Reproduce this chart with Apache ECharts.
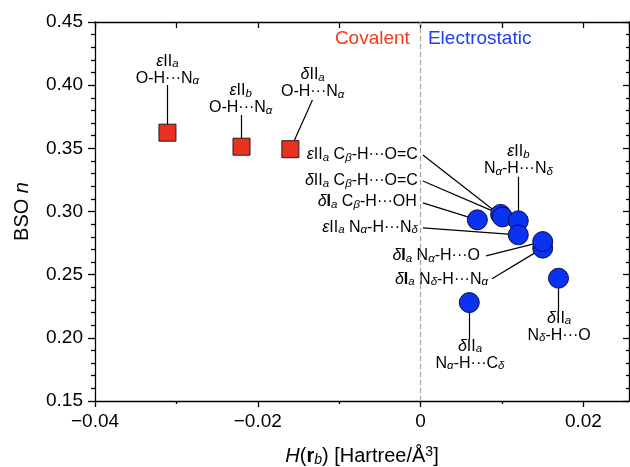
<!DOCTYPE html>
<html>
<head>
<meta charset="utf-8">
<script src="https://cdn.jsdelivr.net/npm/echarts@6/dist/echarts.min.js"></script>
<style>
  html, body { margin: 0; padding: 0; background: #fff; }
  #chart { width: 630px; height: 467px; }
</style>
</head>
<body>
<div id="chart"></div>
<script>
const font = '"Liberation Sans", Arial, sans-serif';

// covalent bond paths (red squares)
const covX = [-0.0311, -0.0220, -0.0160];
const covY = [0.3624, 0.3513, 0.3493];
const covTag = [
  '{i|ε}II{s|a}\nO-H···N{s|α}',
  '{i|ε}II{s|b}\nO-H···N{s|α}',
  '{i|δ}II{s|a}\nO-H···N{s|α}'
];
const covTagX = [-0.0311, -0.0221, -0.01326];
const covTagY = [0.4121, 0.3888, 0.4014];
const covLeadX = [-0.0311, -0.0220, -0.01329];
const covLeadY = [0.4002, 0.3764, 0.3883];
const covSide = ['mid', 'mid', 'mid'];

// electrostatic bond paths (blue circles)
const esX = [0.00697, 0.00982, 0.01005, 0.0120, 0.0120, 0.0150, 0.0150, 0.01694, 0.00598];
const esY = [0.2934, 0.2977, 0.2957, 0.2926, 0.2815, 0.2710, 0.2762, 0.2472, 0.2279];
const esTag = [
  '{i|δ}{b|I}{s|a} C{s|β}-H···OH',
  '{i|δ}II{s|a} C{s|β}-H···O=C',
  '{i|ε}II{s|a} C{s|β}-H···O=C',
  '{i|ε}II{s|b}\nN{s|α}-H···N{s|δ}',
  '{i|ε}II{s|a} N{s|α}-H···N{s|δ}',
  '{i|δ}{b|I}{s|a} N{s|δ}-H···N{s|α}',
  '{i|δ}{b|I}{s|a} N{s|α}-H···O',
  '{i|δ}II{s|a}\nN{s|δ}-H···O',
  '{i|δ}II{s|a}\nN{s|α}-H···C{s|δ}'
];
const esTagX = [-0.00046, -0.00033, -0.00033, 0.01201, -0.00033, 0.00828, 0.0073, 0.01702, 0.00607];
const esTagY = [0.3076, 0.3242, 0.3448, 0.3404, 0.2873, 0.2464, 0.2649, 0.2087, 0.1866];
const esLeadX = [0.00028, 0.00028, 0.00028, 0.01201, 0.00028, 0.00878, 0.00804, 0.01694, 0.00598];
const esLeadY = [0.3068, 0.3242, 0.3448, 0.3276, 0.2870, 0.2467, 0.2649, 0.2208, 0.1984];
const esSide = ['left', 'left', 'left', 'mid', 'left', 'left', 'left', 'mid', 'mid'];

// region captions either side of H = 0
const regionNames = ['Covalent', 'Electrostatic'];
const regionX = [-0.00132, 0.0009];
const regionY = [0.4365, 0.4365];

const xTicks = [-0.04, -0.02, 0, 0.02];

function rs(extra) {
  return Object.assign({ fontFamily: font, color: '#000' }, extra);
}
const noteRich = {
  i: rs({ fontSize: 16, fontStyle: 'italic', lineHeight: 17 }),
  b: rs({ fontSize: 16, fontWeight: 'bold', lineHeight: 17 }),
  s: rs({ fontSize: 11.5, fontStyle: 'italic', lineHeight: 11, verticalAlign: 'bottom' })
};

function tagItems(xs, ys, tags, sides) {
  return xs.map((x, i) => ({
    value: [x, ys[i]],
    name: tags[i],
    label: sides[i] === 'left'
      ? { position: 'left', align: 'right' }
      : { position: 'inside', align: 'center' }
  }));
}
function leaders(px, py, lx, ly) {
  return px.map((x, i) => ({ coords: [[lx[i], ly[i]], [x, py[i]]] }));
}
function fmtX(v) {
  if (v === 0) return '0';
  return (v < 0 ? '\u2212' : '') + Math.abs(v);
}

const axisCol = { color: '#000', width: 1.3 };

const chart = echarts.init(document.getElementById('chart'));
chart.setOption({
  animation: false,
  textStyle: { fontFamily: font },
  grid: { left: 95, right: 1, top: 22, bottom: 66, outerBoundsMode: 'none' },
  xAxis: [{
    type: 'value', min: -0.04, max: 0.0256, interval: 0.02,
    axisLine: { onZero: false, lineStyle: axisCol },
    axisTick: { inside: false, length: 6, customValues: xTicks, lineStyle: axisCol },
    minorTick: { show: true, splitNumber: 2, length: 3, lineStyle: axisCol },
    axisLabel: { customValues: xTicks, formatter: fmtX, color: '#000', fontSize: 19, margin: 11, fontFamily: font },
    splitLine: { show: false },
    name: '{i|H}({b|r}{s|b}) [Hartree/Å{u|3}]',
    nameLocation: 'middle', nameGap: 44,
    nameTextStyle: {
      fontSize: 20, color: '#000', fontFamily: font,
      rich: {
        i: rs({ fontSize: 20, fontStyle: 'italic', lineHeight: 22 }),
        b: rs({ fontSize: 20, fontWeight: 'bold', lineHeight: 22 }),
        s: rs({ fontSize: 14, fontStyle: 'italic', lineHeight: 14, verticalAlign: 'bottom' }),
        u: rs({ fontSize: 14, lineHeight: 14, verticalAlign: 'top' })
      }
    }
  }, {
    type: 'value', position: 'top', min: -0.04, max: 0.0256, interval: 0.01,
    axisLine: { onZero: false, lineStyle: axisCol },
    axisTick: { inside: true, length: 6, lineStyle: axisCol },
    axisLabel: { show: false },
    splitLine: { show: false }
  }],
  yAxis: [{
    type: 'value', min: 0.15, max: 0.45, interval: 0.05,
    axisLine: { show: true, onZero: false, lineStyle: axisCol },
    axisTick: { show: true, inside: false, length: 7, lineStyle: axisCol },
    minorTick: { show: true, splitNumber: 5, length: 4, lineStyle: axisCol },
    axisLabel: { formatter: v => v.toFixed(2), color: '#000', fontSize: 19, margin: 12, fontFamily: font },
    splitLine: { show: false },
    name: 'BSO {i|n}', nameLocation: 'middle', nameGap: 63, nameRotate: 90,
    nameTextStyle: {
      fontSize: 20, color: '#000', fontFamily: font,
      rich: { i: rs({ fontSize: 20, fontStyle: 'italic' }) }
    }
  }, {
    type: 'value', position: 'right', min: 0.15, max: 0.45, interval: 0.05,
    axisLine: { show: true, onZero: false, lineStyle: axisCol },
    axisTick: { show: true, inside: true, length: 6, lineStyle: axisCol },
    minorTick: { show: true, splitNumber: 5, length: 3, lineStyle: axisCol },
    axisLabel: { show: false },
    splitLine: { show: false }
  }],
  series: [
    {
      type: 'lines', coordinateSystem: 'cartesian2d', silent: true, z: 1,
      lineStyle: { color: '#000', width: 1.2, opacity: 1, curveness: 0 },
      data: leaders(covX, covY, covLeadX, covLeadY).concat(leaders(esX, esY, esLeadX, esLeadY)),
      markLine: {
        silent: true, symbol: ['none', 'none'], label: { show: false },
        lineStyle: { color: '#a0a0a0', type: [5, 3], width: 1.2 },
        data: [{ xAxis: 0 }]
      }
    },
    {
      type: 'scatter', symbol: 'rect', symbolSize: 17, silent: true, z: 3,
      itemStyle: { color: '#e8321f', borderColor: '#2a1a1a', borderWidth: 1, opacity: 1 },
      data: covX.map((x, i) => [x, covY[i]])
    },
    {
      type: 'scatter', symbol: 'circle', symbolSize: 20, silent: true, z: 3,
      itemStyle: { color: '#0a32f0', borderColor: '#0c0c40', borderWidth: 1, opacity: 1 },
      data: esX.map((x, i) => [x, esY[i]])
    },
    {
      type: 'scatter', symbolSize: 0, silent: true, z: 4,
      itemStyle: { opacity: 1 },
      label: {
        show: true, formatter: p => p.name, distance: 0, opacity: 1,
        color: '#000', fontSize: 16, lineHeight: 17, fontFamily: font, rich: noteRich
      },
      data: tagItems(covTagX, covTagY, covTag, covSide).concat(tagItems(esTagX, esTagY, esTag, esSide))
    },
    {
      type: 'scatter', symbolSize: 0, silent: true, z: 4,
      itemStyle: { opacity: 1 },
      label: { show: true, formatter: p => p.name, distance: 0, opacity: 1, fontSize: 19, fontFamily: font },
      data: [
        { value: [regionX[0], regionY[0]], name: regionNames[0], label: { position: 'left', color: '#f03a1e' } },
        { value: [regionX[1], regionY[1]], name: regionNames[1], label: { position: 'right', color: '#1e3cf0' } }
      ]
    }
  ]
});
</script>
</body>
</html>
